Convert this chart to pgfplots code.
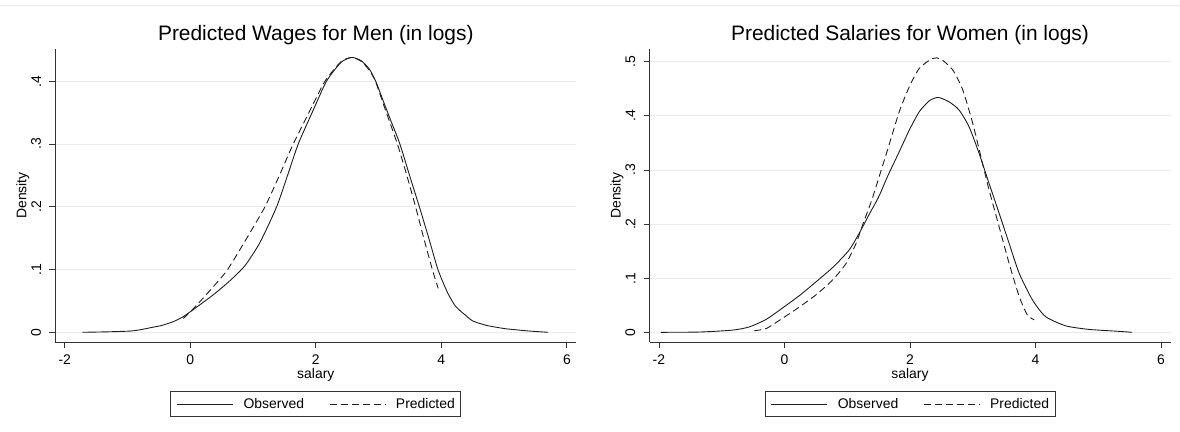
\documentclass[border=0pt]{standalone}
\usepackage{fontspec}
\setmainfont{Liberation Sans}
\usepackage{pgfplots}
\pgfplotsset{compat=1.18}
\definecolor{axisgray}{RGB}{51,51,51}
\definecolor{gridgray}{RGB}{234,234,234}
\definecolor{linegray}{RGB}{30,30,30}

\pgfplotsset{
  statastyle/.style={
    scale only axis,
    width=521bp, height=293bp,
    xmin=-2.15, xmax=6.15,
    axis x line*=bottom, axis y line*=left,
    axis line style={draw=axisgray, line width=0.8bp, -},
    tick style={draw=axisgray, line width=0.8bp},
    tick align=outside, major tick length=6bp,
    xtick={-2,0,2,4,6}, xticklabels={-2,0,2,4,6},
    ymajorgrids, grid style={draw=gridgray, line width=0.8bp},
    ticklabel style={font=\fontsize{14}{16}\selectfont, inner sep=0pt},
    xticklabel shift=7bp,
    yticklabel style={rotate=90, anchor=south},
    yticklabel shift=8bp,
    title style={font=\fontsize{21}{24}\selectfont, at={(axis description cs:0.5,1)}, anchor=base, yshift=3bp},
    xlabel={salary},
    xlabel style={font=\fontsize{14}{16}\selectfont, at={(axis description cs:0.5,0)}, anchor=base, yshift=-36bp},
    ylabel={Density},
    ylabel style={font=\fontsize{14}{16}\selectfont, at={(axis description cs:-0.0553,0.5)}, anchor=base},
    legend columns=2,
    legend style={at={(axis description cs:0.5,-0.2116)}, anchor=center,
      draw=axisgray, line width=0.8bp, font=\fontsize{14}{16}\selectfont,
      inner xsep=6bp, inner ysep=7bp, nodes={inner sep=0pt},
      /tikz/every odd column/.append style={column sep=10bp},
      /tikz/every even column/.append style={column sep=25bp}},
    legend image code/.code={\draw[#1] (0bp,0bp) -- (56bp,0bp);},
    every axis plot/.append style={line width=0.9bp, smooth, tension=0.4},
  },
  obs/.style={draw=linegray, solid},
  pred/.style={draw=linegray, dash pattern=on 7bp off 4bp},
}

\begin{document}
\begin{tikzpicture}
\useasboundingbox (0,0) rectangle (1180bp,432bp);
\draw[gridgray] (0,427bp) -- (1180bp,427bp);

\begin{axis}[statastyle, at={(55.3bp,90bp)}, anchor=south west,
  title={Predicted Wages for Men (in logs)},
  ymin=-0.01546, ymax=0.4515,
  ytick={0,0.1,0.2,0.3,0.4}, yticklabels={0,.1,.2,.3,.4}]
\addplot[obs] coordinates {
  (-1.72,0) (-1.3,0.0008) (-0.95,0.002) (-0.8,0.004) (-0.6,0.008) (-0.45,0.011)
  (-0.27,0.017) (-0.11,0.025) (0.10,0.040) (0.37,0.060) (0.63,0.082) (0.87,0.106)
  (1.11,0.143) (1.376,0.200) (1.55,0.250) (1.72,0.300) (1.95,0.352) (2.17,0.400)
  (2.40,0.430) (2.57,0.438) (2.72,0.433) (2.85,0.420) (2.955,0.400)
  (3.10,0.362) (3.20,0.336) (3.34,0.300) (3.50,0.248) (3.65,0.200) (3.80,0.150)
  (3.946,0.100) (4.10,0.063) (4.23,0.041) (4.40,0.026) (4.50,0.018) (4.72,0.011)
  (5.00,0.006) (5.19,0.004) (5.40,0.002) (5.70,0)
};
\addplot[pred] coordinates {
  (-0.11,0.022) (0.10,0.043) (0.37,0.073) (0.595,0.100) (0.90,0.150) (1.19,0.200)
  (1.42,0.250) (1.64,0.300) (1.90,0.352) (2.145,0.400)
  (2.40,0.431) (2.57,0.438) (2.72,0.432) (2.85,0.418) (2.95,0.400) (3.10,0.357)
  (3.30,0.300) (3.45,0.250) (3.59,0.200) (3.72,0.150) (3.857,0.100) (3.95,0.070)
};
\legend{Observed, Predicted}
\end{axis}

\begin{axis}[statastyle, at={(649.5bp,90bp)}, anchor=south west,
  title={Predicted Salaries for Women (in logs)},
  ymin=-0.0179, ymax=0.5235,
  ytick={0,0.1,0.2,0.3,0.4,0.5}, yticklabels={0,.1,.2,.3,.4,.5}]
\addplot[obs] coordinates {
  (-1.97,0) (-1.36,0.0005) (-0.83,0.004) (-0.56,0.010) (-0.29,0.024) (-0.03,0.045)
  (0.24,0.068) (0.50,0.093) (0.77,0.120) (1.03,0.152) (1.20,0.185) (1.35,0.218)
  (1.50,0.250) (1.65,0.290) (1.83,0.334) (1.99,0.374) (2.15,0.408) (2.31,0.428)
  (2.45,0.434) (2.62,0.426) (2.78,0.411) (2.94,0.380) (3.10,0.331) (3.26,0.275)
  (3.42,0.220) (3.58,0.164) (3.74,0.109) (3.95,0.060) (4.16,0.029) (4.48,0.012)
  (4.80,0.006) (5.01,0.004) (5.30,0.002) (5.54,0)
};
\addplot[pred] coordinates {
  (-0.48,0.003) (-0.29,0.007) (-0.03,0.026) (0.24,0.047) (0.50,0.069) (0.77,0.097)
  (0.98,0.127) (1.14,0.164) (1.25,0.200) (1.39,0.244) (1.51,0.288) (1.65,0.340)
  (1.83,0.408) (1.99,0.454) (2.15,0.488) (2.36,0.506) (2.49,0.505) (2.68,0.485)
  (2.84,0.448) (3.00,0.386) (3.13,0.324) (3.26,0.263) (3.42,0.195) (3.58,0.127)
  (3.74,0.066) (3.87,0.032) (3.98,0.023)
};
\legend{Observed, Predicted}
\end{axis}
\end{tikzpicture}
\end{document}
